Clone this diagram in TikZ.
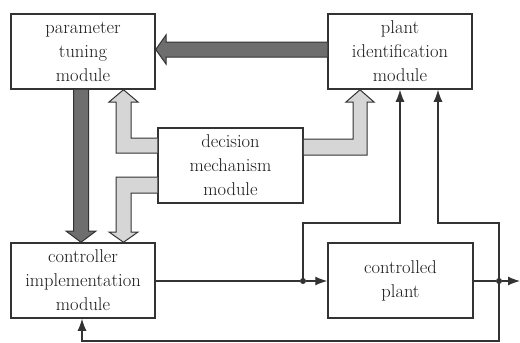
\documentclass[tikz,border=0pt]{standalone}
\usetikzlibrary{arrows.meta,calc}
\definecolor{ink}{HTML}{333333}
\definecolor{txt}{HTML}{1A1A1A}
\definecolor{darkfill}{HTML}{6E6E6E}
\definecolor{lightfill}{HTML}{D6D6D6}
\begin{document}
\begin{tikzpicture}[x=1pt,y=-1pt,
  box/.style={draw=ink,line width=1.5pt,fill=white,align=center,text=txt,
    font=\rmfamily\fontsize{18.5}{24}\selectfont,inner sep=0pt,
    minimum width=144pt,minimum height=75pt},
  fatdark/.style={fill=darkfill,draw=ink,line width=1pt},
  fatlight/.style={fill=lightfill,draw=ink,line width=1pt},
  sig/.style={draw=ink,line width=1.2pt},
  sigarr/.style={sig,-{Latex[length=12pt,width=9pt]}},
  dot/.style={circle,fill=ink,inner sep=0pt,minimum size=6pt}]
\useasboundingbox (0,0) rectangle (520,343);

\node[box] (pt) at (83,51.5) {parameter\\tuning\\module};
\node[box] (pid) at (400,51.5) {plant\\identification\\module};
\node[box,minimum width=145pt] (dm) at (230.5,165.5) {decision\\mechanism\\module};
\node[box] (ci) at (83,280.5) {controller\\implementation\\module};
\node[box,minimum width=145pt] (cp) at (400.5,280.5) {controlled\\plant};

% dark fat arrows
\draw[fatdark] (pid.west |- 0,42) -- (166,42) -- (166,35) -- (pt.east |- 0,49.5) -- (166,64) -- (166,57) -- (pid.west |- 0,57);
\draw[fatdark] (73.5,0 |- pt.south) -- (73.5,231) -- (66,231) -- (81,0 |- ci.north) -- (96,231) -- (88.5,231) -- (88.5,0 |- pt.south);

% light fat arrows
\draw[fatlight] (dm.west |- 0,138) -- (131,138) -- (131,102) -- (138,102) -- (123.5,0 |- pt.south) -- (109,102) -- (116,102) -- (116,153) -- (dm.west |- 0,153);
\draw[fatlight] (dm.west |- 0,177) -- (116,177) -- (116,232) -- (109,232) -- (123.5,0 |- ci.north) -- (138,232) -- (131,232) -- (131,193) -- (dm.west |- 0,193);
\draw[fatlight] (dm.east |- 0,139) -- (353,139) -- (353,102) -- (346,102) -- (360,0 |- pid.south) -- (374,102) -- (367,102) -- (367,155) -- (dm.east |- 0,155);

% signal lines
\node[dot] (j1) at (303,281) {};
\node[dot] (j2) at (499,281) {};
\coordinate (out) at (520,281);
\draw[sig] (ci.east |- j1) -- (j1);
\draw[sigarr] (j1) -- (cp.west |- j1);
\draw[sigarr] (j1.center) -- (303,223) -- (400,223) -- (400,0 |- pid.south);
\draw[sig] (cp.east |- j2) -- (j2);
\draw[sigarr] (j2) -- (out);
\draw[sigarr] (j2.center) -- (499,223) -- (438,223) -- (438,0 |- pid.south);
\draw[sigarr] (j2.center) -- (499,341) -- (82,341) -- (82,0 |- ci.south);
\end{tikzpicture}
\end{document}
